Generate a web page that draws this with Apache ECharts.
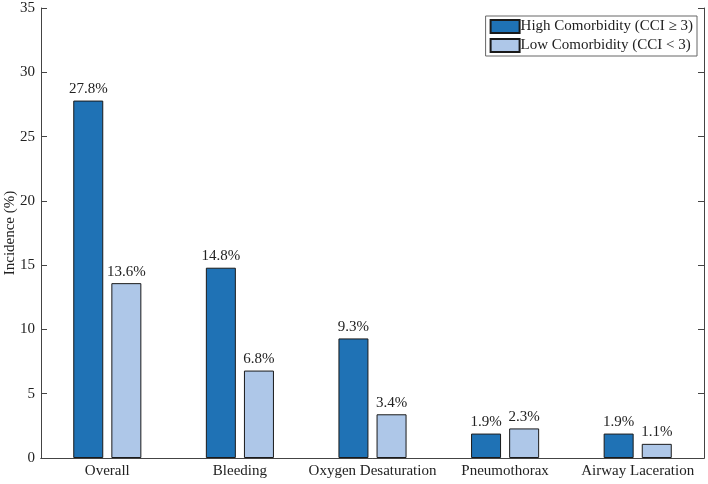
<!DOCTYPE html>
<html><head><meta charset="utf-8">
<script src="https://cdn.jsdelivr.net/npm/echarts@6/dist/echarts.min.js"></script>
<style>html,body{margin:0;padding:0;background:#fff}#c{width:708px;height:484px}</style>
</head><body><div id="c"></div>
<script>
var categories = ['Overall', 'Bleeding', 'Oxygen Desaturation', 'Pneumothorax', 'Airway Laceration'];
var highValues = [27.8, 14.8, 9.3, 1.9, 1.9];
var lowValues = [13.6, 6.8, 3.4, 2.3, 1.1];
var seriesNames = ['High Comorbidity (CCI \u2265 3)', 'Low Comorbidity (CCI < 3)'];
var yTicks = [0, 5, 10, 15, 20, 25, 30, 35];

var FONT = '"Liberation Serif", "Times New Roman", serif';
var FS = 15;
var AX = '#444';
var chart = echarts.init(document.getElementById('c'));
var lbl = {show: true, position: 'top', distance: 4, fontFamily: FONT, fontSize: FS, color: '#222',
  formatter: function(p){ return p.value.toFixed(1) + '%'; }};
chart.setOption({
  animation: false,
  textStyle: {fontFamily: FONT},
  grid: {left: 41, right: 4, top: 8, bottom: 26, containLabel: false, outerBoundsMode: 'none'},
  legend: {
    right: 11, top: 16, orient: 'vertical', itemWidth: 29, itemHeight: 13, itemGap: 4,
    padding: [3, 4, 3, 4], borderColor: '#666', borderWidth: 1, backgroundColor: '#fff',
    textStyle: {fontFamily: FONT, fontSize: FS, color: '#222', padding: [0,0,0,-4]},
    data: [{name: seriesNames[0], icon: 'rect'}, {name: seriesNames[1], icon: 'rect'}]
  },
  xAxis: [{
    type: 'category', data: categories, position: 'bottom',
    axisLine: {lineStyle: {color: AX, width: 1}},
    axisTick: {inside: true, alignWithLabel: true, length: 6, lineStyle: {color: AX}},
    axisLabel: {fontFamily: FONT, fontSize: FS, color: '#222', margin: 6, interval: 0}
  }, {
    type: 'category', data: categories, position: 'top',
    axisLine: {lineStyle: {color: AX, width: 1}},
    axisTick: {inside: true, alignWithLabel: true, length: 6, lineStyle: {color: AX}},
    axisLabel: {show: false}
  }],
  yAxis: [{
    type: 'value', min: 0, max: 35, interval: 5,
    name: 'Incidence (%)', nameLocation: 'middle', nameGap: 23, nameRotate: 90,
    nameMoveOverlap: false,
    nameTextStyle: {fontFamily: FONT, fontSize: FS, color: '#222'},
    axisLine: {show: true, lineStyle: {color: AX, width: 1}},
    axisTick: {show: true, inside: true, length: 6, lineStyle: {color: AX}},
    axisLabel: {fontFamily: FONT, fontSize: FS, color: '#222', margin: 6,
      formatter: function(v){ return yTicks.indexOf(v) >= 0 ? String(v) : ''; }},
    splitLine: {show: false}
  }, {
    type: 'value', min: 0, max: 35, interval: 5, position: 'right',
    axisLine: {show: true, lineStyle: {color: AX, width: 1}},
    axisTick: {show: true, inside: true, length: 6, lineStyle: {color: AX}},
    axisLabel: {show: false}, splitLine: {show: false}
  }],
  series: [{
    name: seriesNames[0], type: 'bar', data: highValues, barWidth: 30, barGap: '27%',
    itemStyle: {color: '#1f72b5', borderColor: '#1a1a1a', borderWidth: 1},
    label: lbl
  }, {
    name: seriesNames[1], type: 'bar', data: lowValues, barWidth: 30,
    itemStyle: {color: '#aec7e8', borderColor: '#1a1a1a', borderWidth: 1},
    label: lbl
  }]
});
</script></body></html>
